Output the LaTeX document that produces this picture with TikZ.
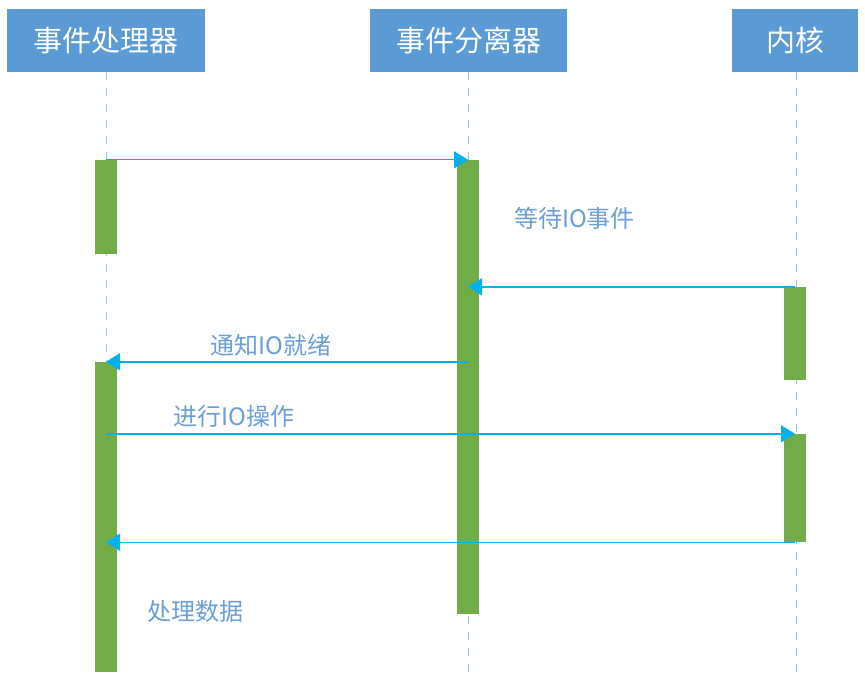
\documentclass[tikz,border=0pt]{standalone}
\usepackage{fontspec}
\setmainfont{Noto Sans CJK SC}
\usetikzlibrary{calc, positioning}
\usetikzlibrary{arrows.meta}
\definecolor{headblue}{HTML}{5B9BD5}
\definecolor{lineblue}{HTML}{9DC3E6}
\definecolor{msgblue}{HTML}{00B0F0}
\definecolor{bargreen}{HTML}{70AD47}
\definecolor{noteblue}{HTML}{6A9FD8}

\begin{document}
\begin{tikzpicture}[x=1pt, y=-1pt,
  head/.style={fill=headblue, text=white, inner sep=0pt, minimum height=63pt,
    font=\fontsize{29}{32}\selectfont},
  life/.style={lineblue, line width=1pt, dash pattern=on 8pt off 8pt},
  actbar/.style={fill=bargreen, inner sep=0pt, minimum width=22pt},
  msg/.style={msgblue, line width=1.4pt, -{Triangle[length=14pt, width=17pt]}},
  note/.style={text=noteblue, font=\fontsize{24}{27}\selectfont}]
\useasboundingbox (0,0) rectangle (865,674);

% lifeline heads
\node[head, minimum width=198pt] (hdlr) at (106,40.5) {事件处理器};
\node[head, minimum width=197pt] (demux) at (468.5,40.5) {事件分离器};
\node[head, minimum width=126pt] (kern) at (795,40.5) {内核};

\coordinate (hdlrB) at (106,674);
\coordinate (demuxB) at (468,674);
\coordinate (kernB) at (796,674);
\draw[life] (hdlr.south -| hdlrB) -- (hdlrB);
\draw[life] (demux.south -| demuxB) -- (demuxB);
\draw[life] (kern.south -| kernB) -- (kernB);

% activation bars
\node[actbar, minimum height=94pt] (hdlrA) at (106,207) {};
\node[actbar, minimum height=454pt] (demuxA) at (468,387) {};
\node[actbar, minimum height=93pt] (kernA) at (795,333.5) {};
\node[actbar, minimum height=310pt] (hdlrC) at (106,517) {};
\node[actbar, minimum height=108pt] (kernC) at (795,488) {};

% messages
\draw[msg] (hdlrA.north) -- (demuxA.north);
\draw[msg] (kernA.north) -- (demuxA.north |- kernA.north);
\draw[msg] (demuxA.center |- hdlrC.north) -- (hdlrC.north);
\draw[msg] (hdlrC.center |- kernC.north) -- (kernC.north);
\draw[msg] (kernC.south) -- (hdlrC.center |- kernC.south);

\node[note] (wait) at (574.5,218) {等待IO事件};
\node[note] (notify) at (271,345) {通知IO就绪};
\node[note] (doio) at (234,416) {进行IO操作};
\node[note] (proc) at (195.5,611) {处理数据};
\end{tikzpicture}
\end{document}
